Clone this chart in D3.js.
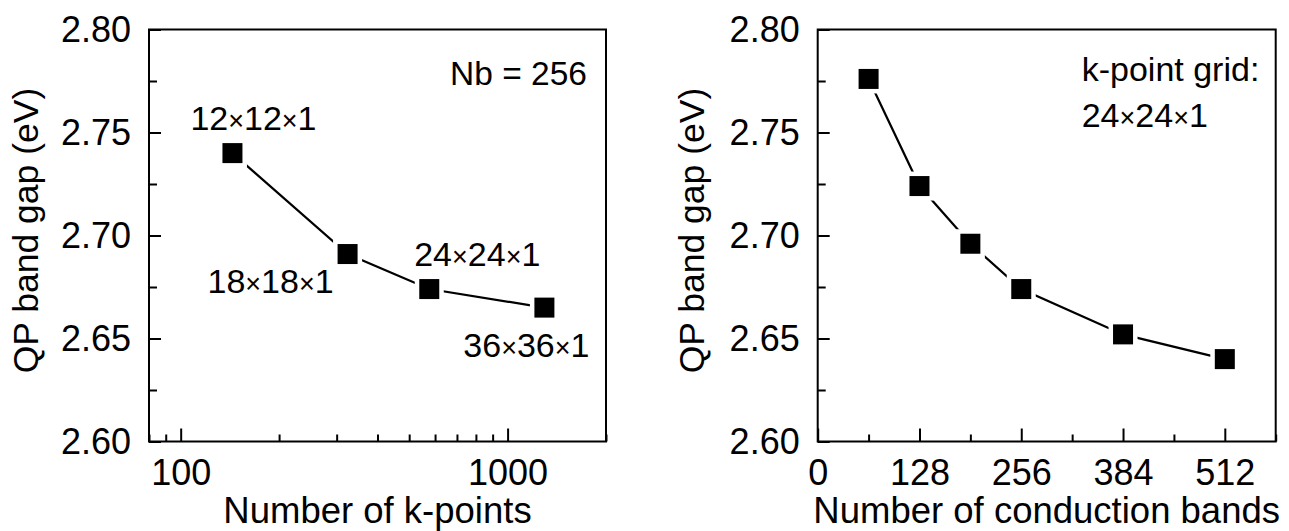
<!DOCTYPE html>
<html>
<head>
<meta charset="utf-8">
<script src="https://cdn.jsdelivr.net/npm/d3@7"></script>
<style>
  html, body { margin: 0; padding: 0; background: #fff; }
  svg text { font-family: "Liberation Sans", Arial, sans-serif; fill: #000; }
</style>
</head>
<body>
<script>
// left panel: gap vs k-point sampling (Nb = 256)
var kGrid = ['12×12×1', '18×18×1', '24×24×1', '36×36×1'];
var kPoints = [144, 324, 576, 1296];
var kGap = [2.740, 2.691, 2.674, 2.665];

// right panel: gap vs number of conduction bands (24x24x1 grid)
var nBands = [64, 128, 192, 256, 384, 512];
var nbGap = [2.776, 2.724, 2.696, 2.674, 2.652, 2.640];

// axis ticks
var gapTicks = [2.60, 2.65, 2.70, 2.75, 2.80];
var gapMinor = [2.625, 2.675, 2.725, 2.775];
var kTicks = [100, 1000];
var bandTicks = [0, 128, 256, 384, 512];
var bandMinor = [64, 192, 320, 448, 576];

// where the grid labels sit relative to their marker (px)
var kLabelOffset = [[21, -23], [-77, 39], [48, -23], [-18, 49]];

var W = 1289, H = 531;
var plotTop = 29.5, plotBottom = 441.5;

var svg = d3.select('body').append('svg')
    .attr('width', W)
    .attr('height', H);

svg.append('rect').attr('width', W).attr('height', H).attr('fill', '#fff');

// grid labels like 12x12x1: the "×" is set a bit smaller than the digits
function gridLabel(sel) {
    sel.each(function (d) {
        var t = d3.select(this);
        d.split('×').forEach(function (part, i) {
            if (i > 0) t.append('tspan').attr('font-size', 27).text('×');
            t.append('tspan').text(part);
        });
    });
}

function drawPanel(p) {
    var g = svg.append('g');
    var x = p.x, y = p.y;

    // ticks, pointing inward
    g.append('g').attr('transform', 'translate(' + p.x0 + ',0)')
        .call(d3.axisLeft(y).tickValues(gapTicks).tickSize(-12).tickPadding(18).tickFormat(d3.format('.2f')));
    g.append('g').attr('transform', 'translate(' + p.x0 + ',0)')
        .call(d3.axisLeft(y).tickValues(gapMinor).tickSize(-8).tickFormat(''));

    g.append('g').attr('transform', 'translate(0,' + plotBottom + ')')
        .call(d3.axisBottom(x).tickValues(p.xTicks).tickSize(-13).tickPadding(18).tickFormat(d3.format('d')));
    g.append('g').attr('transform', 'translate(0,' + plotBottom + ')')
        .call(d3.axisBottom(x).tickValues(p.xMinor).tickSize(-7).tickFormat(''));

    g.selectAll('.domain').remove();
    g.selectAll('.tick line').attr('stroke', '#000').attr('stroke-width', 2);
    g.selectAll('.tick text').attr('font-size', 36).attr('fill', '#000')
        .style('font-family', '"Liberation Sans", Arial, sans-serif');

    // frame
    g.append('rect')
        .attr('x', p.x0).attr('y', plotTop)
        .attr('width', p.x1 - p.x0).attr('height', plotBottom - plotTop)
        .attr('fill', 'none').attr('stroke', '#000').attr('stroke-width', 2);

    // axis titles
    g.append('text')
        .attr('x', (p.x0 + p.x1) / 2).attr('y', 523)
        .attr('text-anchor', 'middle').attr('font-size', 36.5)
        .text(p.xTitle);
    g.append('text')
        .attr('transform', 'translate(' + p.yTitleX + ',' + ((plotTop + plotBottom) / 2 - 5) + ') rotate(-90)')
        .attr('text-anchor', 'middle').attr('font-size', 35.5)
        .text('QP band gap (eV)');

    // line + square markers; the white halo leaves a small gap at each marker
    var pts = p.xs.map(function (v, i) { return [v, p.ys[i]]; });
    g.append('path')
        .attr('d', d3.line().x(function (d) { return x(d[0]); }).y(function (d) { return y(d[1]); })(pts))
        .attr('fill', 'none').attr('stroke', '#000').attr('stroke-width', 2.2);

    var s = 20;
    g.selectAll('rect.pt').data(pts).enter().append('rect')
        .attr('class', 'pt')
        .attr('x', function (d) { return x(d[0]) - s / 2; })
        .attr('y', function (d) { return y(d[1]) - s / 2; })
        .attr('width', s).attr('height', s)
        .attr('fill', '#000').attr('stroke', '#fff').attr('stroke-width', 9)
        .style('paint-order', 'stroke');

    return g;
}

// left: log x axis
var xk = d3.scaleLog().domain([80, 2000]).range([149, 606]);
var yl = d3.scaleLinear().domain([2.60, 2.80]).range([plotBottom, plotTop]);
var leftPanel = drawPanel({
    x: xk, y: yl, x0: 149, x1: 606,
    xTicks: kTicks,
    xMinor: xk.ticks().filter(function (v) { return kTicks.indexOf(v) < 0; }),
    xTitle: 'Number of k-points', yTitleX: 38,
    xs: kPoints, ys: kGap
});

leftPanel.append('text')
    .attr('x', 587).attr('y', 85)
    .attr('text-anchor', 'end').attr('font-size', 33.5)
    .text('Nb = 256');

leftPanel.selectAll('text.grid').data(kGrid).enter().append('text')
    .attr('class', 'grid')
    .attr('x', function (d, i) { return xk(kPoints[i]) + kLabelOffset[i][0]; })
    .attr('y', function (d, i) { return yl(kGap[i]) + kLabelOffset[i][1]; })
    .attr('text-anchor', 'middle').attr('font-size', 34)
    .call(gridLabel);

// right: linear x axis
var xb = d3.scaleLinear().domain([0, 576]).range([817.7, 1275.7]);
var yr = d3.scaleLinear().domain([2.60, 2.80]).range([plotBottom, plotTop]);
var rightPanel = drawPanel({
    x: xb, y: yr, x0: 817.7, x1: 1275.7,
    xTicks: bandTicks, xMinor: bandMinor,
    xTitle: 'Number of conduction bands', yTitleX: 704,
    xs: nBands, ys: nbGap
});

rightPanel.append('text')
    .attr('x', 1081.7).attr('y', 81)
    .attr('font-size', 34)
    .text('k-point grid:');
rightPanel.selectAll('text.grid').data([kGrid[2]]).enter().append('text')
    .attr('class', 'grid')
    .attr('x', 1081.7).attr('y', 127)
    .attr('font-size', 34)
    .call(gridLabel);
</script>
</body>
</html>
